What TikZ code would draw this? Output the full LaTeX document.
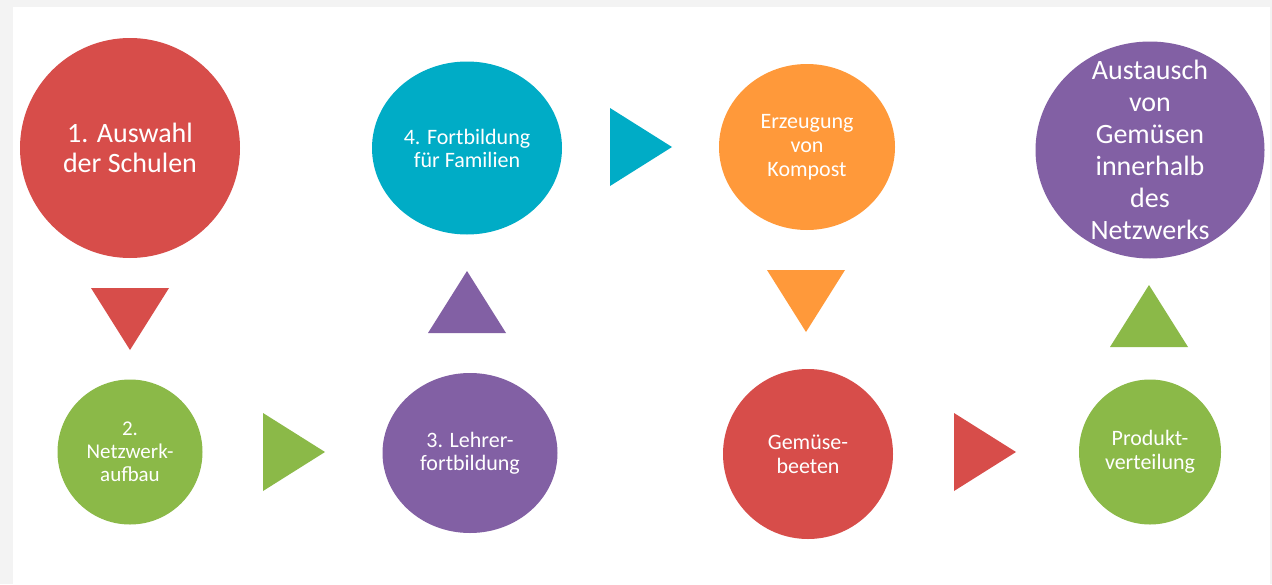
\documentclass[tikz,border=0pt]{standalone}
\usepackage{fontspec}
\setmainfont{Carlito}
\usepackage{tikz}
\usetikzlibrary{shapes.geometric}
\definecolor{stagered}{RGB}{215, 77, 74}
\definecolor{stagegreen}{RGB}{139, 185, 72}
\definecolor{stagepurple}{RGB}{130, 96, 164}
\definecolor{stagecyan}{RGB}{0, 172, 198}
\definecolor{stageorange}{RGB}{255, 153, 58}
\definecolor{framegrey}{RGB}{243, 243, 243}

% filled triangle pointing from one stage to the next
\newcommand{\steptri}[3]{\fill[#1, shift={(#2)}, rotate=#3] (-31,-39) -- (31,0) -- (-31,39) -- cycle;}

\tikzset{
  stage/.style={ellipse, fill=#1, draw=none, inner sep=0pt},
  stagetext/.style 2 args={text=white, align=center, font=\fontsize{#1}{#2}\selectfont}
}

\begin{document}
\begin{tikzpicture}[x=1pt, y=-1pt]
  \useasboundingbox (0,0) rectangle (1272,584);
  % Frame
  \fill[framegrey] (0,0) rectangle (1272,584);
  \fill[white] (13,7) rectangle (1270,584);

  % Stages (top row)
  \node[stage=stagered, minimum width=220pt, minimum height=220pt] (auswahl) at (130,148) {};
  \node[stagetext={28}{30}] (auswahl-t) at (auswahl) {1. Auswahl\\der Schulen};
  \node[stage=stagecyan, minimum width=190pt, minimum height=173pt] (familien) at (467,148) {};
  \node[stagetext={22}{23}] (familien-t) at (familien) {4. Fortbildung\\für Familien};
  \node[stage=stageorange, minimum width=176pt, minimum height=166pt] (kompost) at (807,147) {};
  \node[stagetext={22}{24}] (kompost-t) at (kompost) {Erzeugung\\von\\Kompost};
  \node[stage=stagepurple, minimum width=229pt, minimum height=217pt] (austausch) at (1150,150) {};
  \node[stagetext={28}{32}] (austausch-t) at (austausch) {Austausch\\von\\Gemüsen\\innerhalb\\des\\Netzwerks};

  % Stages (bottom row)
  \node[stage=stagegreen, minimum width=145pt, minimum height=145pt] (netzwerk) at (130,452) {};
  \node[stagetext={21}{23}] (netzwerk-t) at (netzwerk) {2.\\Netzwerk-\\aufbau};
  \node[stage=stagepurple, minimum width=175pt, minimum height=160pt] (lehrer) at (470,453) {};
  \node[stagetext={22}{23}] (lehrer-t) at (lehrer) {3. Lehrer-\\fortbildung};
  \node[stage=stagered, minimum width=170pt, minimum height=170pt] (beete) at (808,454) {};
  \node[stagetext={22}{24}] (beete-t) at (beete) {Gemüse-\\beeten};
  \node[stage=stagegreen, minimum width=142pt, minimum height=145pt] (verteilung) at (1150,452) {};
  \node[stagetext={22}{24}] (verteilung-t) at (verteilung) {Produkt-\\verteilung};

  % Triangles between the stages
  \steptri{stagered}{130,319}{-90}
  \steptri{stagegreen}{294,452}{0}
  \steptri{stagepurple}{467,302}{90}
  \steptri{stagecyan}{641,147}{0}
  \steptri{stageorange}{806,301}{-90}
  \steptri{stagered}{985,452}{0}
  \steptri{stagegreen}{1149,316}{90}
\end{tikzpicture}
\end{document}
